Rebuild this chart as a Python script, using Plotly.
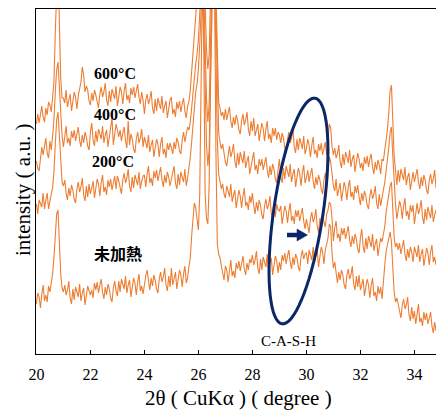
import math
import plotly.graph_objects as go

# ---------------- data (2theta grid, 0.05 deg step from 20.00 to 34.80) ----------------
two_theta = [round(20 + 0.05 * i, 2) for i in range(297)]

series_names = ["600°C", "400°C", "200°C", "未加熱"]

y_600 = [
    230, 240, 231, 240, 248, 237, 232, 246, 239, 252, 249, 242, 258, 272, 322, 388, 400, 332, 276, 256,
    256, 251, 264, 247, 255, 260, 243, 252, 262, 257, 245, 258, 266, 272, 287, 279, 262, 268, 264, 253,
    249, 261, 253, 264, 259, 250, 246, 260, 267, 257, 262, 271, 254, 248, 263, 252, 265, 260, 255, 268,
    248, 257, 267, 262, 250, 263, 271, 254, 259, 251, 266, 259, 267, 256, 264, 270, 257, 250, 262, 254,
    240, 254, 260, 250, 255, 263, 246, 240, 255, 243, 256, 251, 245, 258, 241, 248, 253, 236, 245, 254,
    257, 240, 245, 237, 252, 245, 253, 242, 250, 256, 243, 236, 248, 252, 264, 280, 302, 318, 332, 345,
    360, 380, 410, 430, 400, 350, 305, 285, 300, 360, 420, 450, 430, 360, 290, 252, 246, 238, 242, 234,
    245, 234, 241, 247, 233, 226, 237, 229, 239, 234, 224, 220, 233, 240, 229, 234, 242, 225, 218, 233,
    223, 236, 218, 226, 230, 213, 221, 231, 225, 213, 225, 233, 215, 220, 211, 226, 218, 226, 214, 222,
    219, 211, 221, 216, 206, 202, 215, 222, 211, 216, 225, 207, 201, 215, 204, 216, 211, 205, 218, 200,
    205, 215, 209, 197, 209, 217, 200, 204, 196, 210, 203, 211, 199, 207, 212, 199, 212, 230, 226, 207,
    199, 206, 196, 200, 209, 192, 186, 200, 189, 202, 197, 191, 204, 187, 195, 199, 182, 191, 201, 195,
    186, 191, 183, 197, 190, 198, 187, 195, 200, 187, 180, 192, 184, 194, 189, 180, 195, 193, 202, 215,
    224, 240, 263, 269, 230, 198, 184, 169, 184, 172, 185, 179, 174, 187, 169, 177, 181, 164, 173, 182,
    172, 180, 185, 172, 165, 177, 168, 179, 174, 164, 160, 174, 180, 170, 175, 184, 166,
]

y_400 = [
    193, 186, 183, 199, 207, 199, 206, 216, 201, 196, 213, 204, 218, 234, 262, 284, 292, 264, 234, 218,
    207, 220, 228, 211, 216, 208, 223, 216, 224, 213, 221, 227, 214, 207, 219, 211, 222, 217, 208, 204,
    222, 231, 214, 208, 223, 212, 225, 220, 215, 228, 211, 219, 224, 207, 216, 226, 236, 209, 222, 230,
    224, 217, 224, 213, 221, 227, 213, 206, 233, 209, 220, 215, 205, 201, 215, 222, 211, 216, 225, 207,
    217, 212, 206, 219, 202, 209, 214, 197, 205, 215, 210, 197, 210, 217, 200, 205, 196, 211, 204, 211,
    206, 200, 212, 205, 216, 212, 203, 200, 214, 222, 212, 218, 227, 224, 232, 246, 262, 278, 290, 300,
    315, 340, 375, 395, 360, 300, 255, 232, 250, 310, 380, 420, 400, 330, 255, 222, 212, 205, 210, 200,
    192, 188, 201, 208, 197, 202, 210, 193, 186, 201, 189, 202, 196, 191, 203, 186, 193, 198, 180, 189,
    194, 202, 184, 189, 180, 195, 188, 195, 184, 191, 197, 184, 176, 188, 179, 190, 185, 175, 171, 184,
    195, 178, 171, 186, 175, 188, 182, 177, 190, 172, 180, 185, 167, 176, 186, 181, 168, 181, 189, 171,
    176, 184, 172, 180, 186, 173, 165, 177, 169, 179, 174, 165, 160, 174, 181, 171, 184, 197, 192, 176,
    168, 163, 175, 158, 166, 171, 153, 162, 172, 166, 154, 167, 174, 157, 162, 154, 168, 161, 169, 157,
    149, 161, 153, 163, 158, 149, 145, 158, 165, 155, 160, 168, 151, 145, 160, 148, 158, 164, 171, 183,
    191, 206, 222, 227, 198, 166, 150, 135, 144, 153, 148, 135, 148, 156, 138, 143, 134, 149, 142, 149,
    130, 144, 151, 140, 145, 154, 137, 130, 145, 134, 147, 141, 136, 149, 132, 139, 144,
]

y_200 = [
    150, 140, 154, 151, 147, 161, 145, 154, 161, 145, 155, 160, 166, 182, 210, 234, 242, 216, 190, 172,
    168, 174, 161, 154, 166, 158, 169, 164, 155, 151, 165, 172, 162, 167, 176, 159, 153, 168, 157, 170,
    160, 168, 173, 156, 165, 175, 170, 158, 171, 179, 162, 167, 159, 174, 167, 175, 164, 172, 178, 165,
    178, 173, 164, 160, 174, 181, 171, 176, 185, 168, 162, 177, 166, 179, 174, 169, 182, 165, 173, 178,
    179, 167, 180, 188, 171, 176, 168, 183, 176, 184, 173, 181, 187, 174, 167, 179, 171, 182, 177, 168,
    174, 179, 188, 171, 165, 180, 169, 182, 177, 172, 185, 168, 176, 185, 197, 212, 232, 250, 262, 270,
    285, 310, 350, 375, 330, 260, 210, 188, 205, 270, 350, 400, 380, 300, 215, 180, 172, 165, 170, 160,
    156, 168, 163, 157, 170, 152, 159, 164, 146, 155, 164, 158, 146, 158, 166, 148, 152, 144, 158, 151,
    161, 148, 140, 152, 143, 154, 149, 139, 135, 148, 155, 145, 149, 158, 140, 134, 149, 137, 150, 144,
    143, 148, 130, 139, 148, 143, 131, 143, 151, 133, 138, 130, 144, 137, 144, 133, 141, 146, 133, 125,
    135, 126, 121, 135, 142, 132, 136, 145, 128, 121, 136, 125, 137, 132, 127, 140, 144, 152, 149, 135,
    113, 126, 133, 116, 120, 112, 126, 119, 126, 115, 122, 128, 114, 107, 118, 110, 120, 115, 105, 101,
    116, 125, 108, 101, 116, 105, 118, 112, 107, 120, 103, 110, 115, 98, 107, 116, 112, 118, 127, 141,
    151, 161, 168, 172, 144, 117, 107, 111, 104, 111, 100, 108, 114, 100, 93, 105, 96, 107, 102, 92,
    107, 102, 97, 109, 92, 100, 105, 88, 96, 106, 101, 89, 102, 109, 92, 97, 89,
]

y_raw = [
    50, 61, 57, 46, 60, 69, 53, 59, 52, 68, 62, 71, 80, 96, 118, 140, 144, 112, 80, 66,
    62, 69, 59, 64, 73, 56, 50, 65, 54, 67, 62, 57, 70, 53, 61, 66, 49, 58, 68, 63,
    59, 64, 56, 71, 64, 72, 61, 69, 75, 62, 55, 67, 59, 70, 65, 56, 52, 66, 73, 63,
    58, 73, 62, 75, 70, 65, 78, 61, 69, 74, 57, 66, 76, 71, 59, 72, 80, 63, 68, 60,
    70, 78, 84, 71, 64, 76, 68, 79, 74, 65, 61, 75, 82, 72, 77, 86, 69, 63, 78, 67,
    86, 69, 77, 82, 65, 74, 84, 79, 67, 80, 88, 71, 76, 88, 96, 118, 140, 151, 146, 132,
    124, 160, 300, 380, 300, 160, 135, 130, 170, 300, 390, 420, 360, 200, 110, 100, 96, 88, 80, 74,
    88, 84, 72, 86, 94, 78, 83, 76, 91, 85, 93, 83, 91, 98, 85, 79, 91, 84, 95, 91,
    99, 89, 94, 103, 86, 80, 95, 84, 97, 92, 87, 100, 83, 91, 96, 79, 88, 98, 93, 81,
    92, 84, 99, 93, 101, 90, 98, 104, 92, 85, 97, 89, 100, 96, 87, 83, 97, 104, 95, 100,
    101, 90, 104, 99, 94, 107, 91, 99, 104, 87, 97, 107, 102, 90, 104, 112, 116, 130, 127, 100,
    86, 92, 78, 71, 82, 74, 84, 79, 69, 65, 79, 85, 75, 79, 88, 70, 64, 78, 67, 79,
    64, 71, 75, 58, 66, 75, 69, 56, 69, 76, 58, 62, 53, 68, 60, 67, 55, 75, 88, 102,
    110, 118, 122, 112, 84, 62, 52, 56, 50, 41, 36, 49, 55, 45, 49, 57, 39, 33, 47, 35,
    43, 30, 43, 50, 32, 36, 28, 42, 34, 41, 30, 37, 42, 28, 21, 32, 23,
]

x_ticks = [20, 22, 24, 26, 28, 30, 32, 34]

# ---------------- figure ----------------
ORANGE = "#ED7D31"
NAVY = "#0C2768"
SERIF = "Liberation Serif, Times New Roman, serif"

X0, X1 = 19.985, 34.8
Y0, Y1 = 0, 345
PX_PER_DEG = 400 / (X1 - X0)

fig = go.Figure()
for name, ys in zip(series_names, [y_600, y_400, y_200, y_raw]):
    fig.add_trace(go.Scatter(x=two_theta, y=ys, mode="lines", name=name,
                             line=dict(color=ORANGE, width=1.1),
                             showlegend=False, hoverinfo="skip"))

# helper: pixel positions -> data units (for annotation shapes)
def px2x(px):
    return X0 + (px - 36) / PX_PER_DEG

def py2y(py):
    return 354 - py

# C-A-S-H ellipse (tilted)
cx, cy = 298.5, 211.0
a, b = 114.0, 24.7
ang = math.atan2(33, 226)
ux, uy = math.sin(ang), -math.cos(ang)
vx, vy = math.cos(ang), math.sin(ang)
pts = []
for k in range(73):
    t = 2 * math.pi * k / 72
    px = cx + a * math.cos(t) * ux + b * math.sin(t) * vx
    py = cy + a * math.cos(t) * uy + b * math.sin(t) * vy
    pts.append(f"{px2x(px):.4f},{py2y(py):.2f}")
path = "M " + " L ".join(pts) + " Z"
fig.add_shape(type="path", path=path, xref="x", yref="y",
              line=dict(color=NAVY, width=3))

# arrow
fig.add_shape(type="line", x0=px2x(287), x1=px2x(298), y0=py2y(235), y1=py2y(235),
              xref="x", yref="y", line=dict(color=NAVY, width=4.5))
fig.add_shape(type="path", xref="x", yref="y",
              path=f"M {px2x(297):.4f},{py2y(229):.2f} L {px2x(307.5):.4f},{py2y(235):.2f} "
                   f"L {px2x(297):.4f},{py2y(241):.2f} Z",
              fillcolor=NAVY, line=dict(color=NAVY, width=0.5))

# labels
for txt, px, py in [("600°C", 115, 73), ("400°C", 115, 114), ("200°C", 113, 161)]:
    fig.add_annotation(x=px2x(px), y=py2y(py), text=f"<b>{txt}</b>", showarrow=False,
                       font=dict(family=SERIF, size=16, color="black"))
fig.add_annotation(x=px2x(118), y=py2y(253), text="<b>未加熱</b>", showarrow=False,
                   font=dict(family="Noto Sans CJK JP", size=16, color="black"))
fig.add_annotation(x=px2x(288), y=py2y(341), text="C-A-S-H", showarrow=False,
                   font=dict(family=SERIF, size=15, color="black"))

# axis titles
fig.add_annotation(xref="paper", yref="paper", x=(239 - 36) / 400, y=-(398 - 354) / 345,
                   xanchor="center", yanchor="middle",
                   text="2θ ( CuKα ) ( degree )", showarrow=False,
                   font=dict(family=SERIF, size=21, color="black"))
fig.add_annotation(xref="paper", yref="paper", x=(23 - 36) / 400, y=(354 - 190) / 345,
                   xanchor="center", yanchor="middle",
                   text="intensity ( a.u. )", showarrow=False, textangle=-90,
                   font=dict(family=SERIF, size=21, color="black"))

fig.update_layout(
    width=436, height=412,
    margin=dict(l=36, r=0, t=9, b=58),
    paper_bgcolor="white", plot_bgcolor="white",
    xaxis=dict(range=[X0, X1], tickvals=x_ticks, ticktext=[str(v) for v in x_ticks],
               ticks="inside", ticklen=4, tickwidth=1.3, tickcolor="black",
               ticklabelstandoff=6,
               showline=True, linecolor="black", linewidth=1.3, mirror=True,
               showgrid=False, zeroline=False,
               tickfont=dict(family=SERIF, size=16, color="black")),
    yaxis=dict(range=[Y0, Y1], showticklabels=False, ticks="",
               showline=True, linecolor="black", linewidth=1.3,
               showgrid=False, zeroline=False),
)

fig.write_html("out.html")
